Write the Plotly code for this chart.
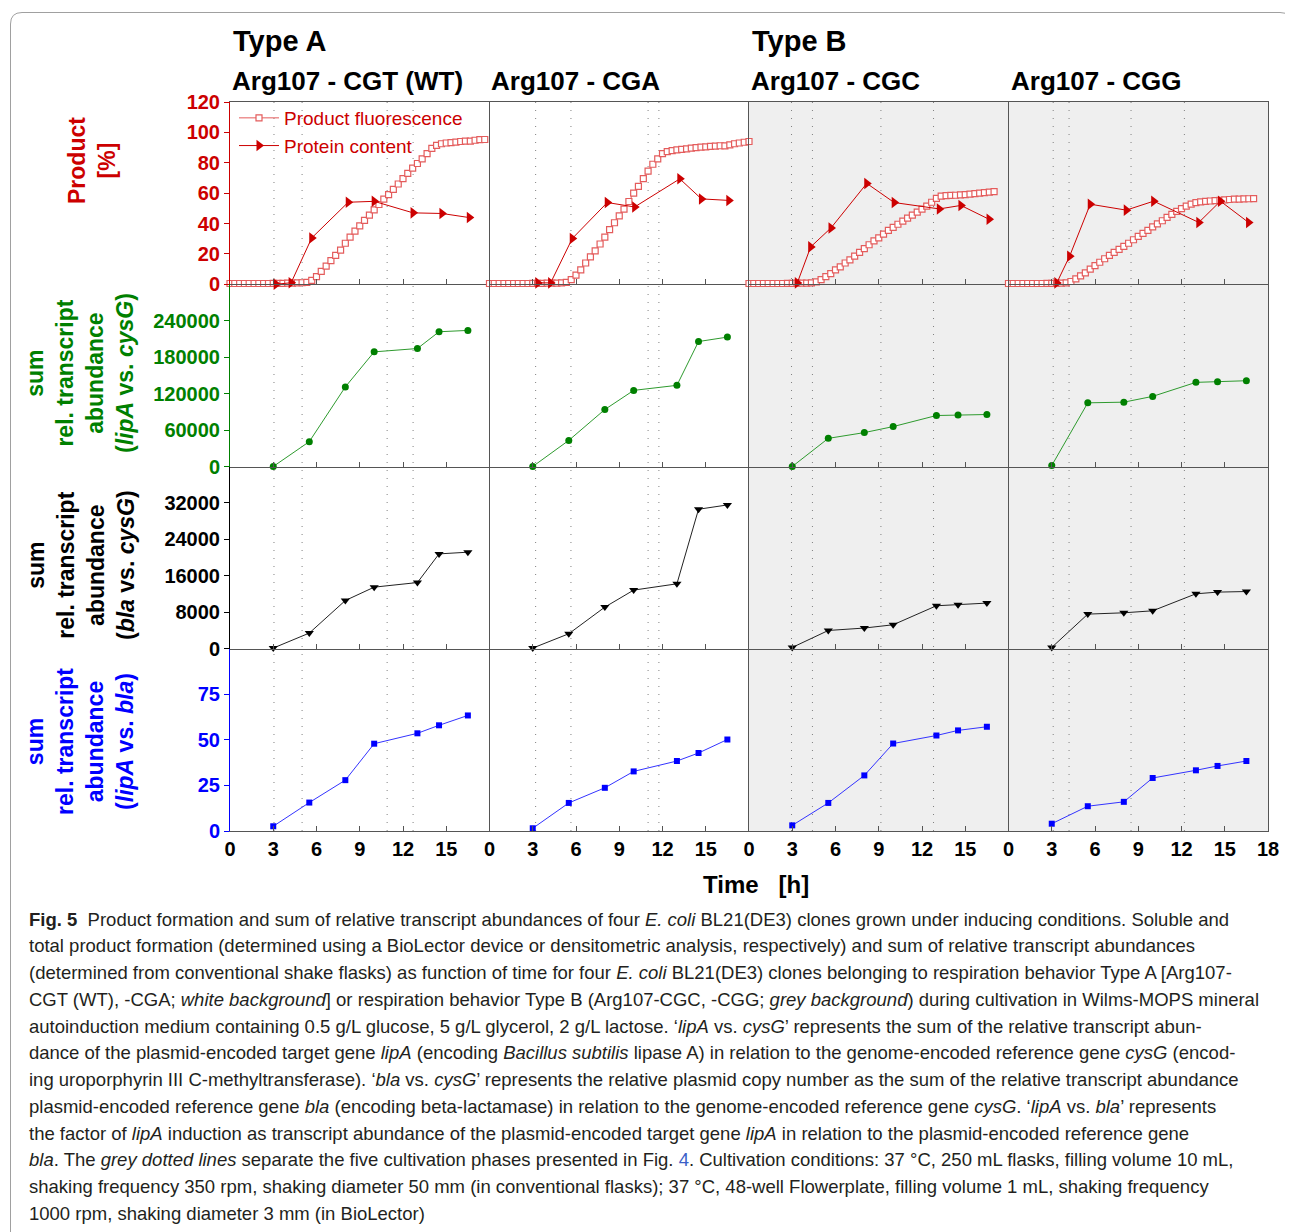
import plotly.graph_objects as go
from plotly.subplots import make_subplots

# ---------------- data ----------------
COLUMN_TITLES = ["Arg107 - CGT (WT)", "Arg107 - CGA", "Arg107 - CGC", "Arg107 - CGG"]
TYPE_TITLES = ["Type A", "Type B"]

# phase boundaries (grey dotted lines), hours, per clone
PHASES = [
    [3.05, 5.0, 10.9, 12.7],
    [3.2, 5.65, 11.0, 11.75],
    [2.95, 4.4, 9.15, 12.8],
    [3.1, 4.2, 8.5, 12.2],
]

# product fluorescence (BioLector), time grid in hours
FL_T = [0.0, 0.33, 0.67, 1.0, 1.33, 1.67, 2.0, 2.33, 2.67, 3.0, 3.33, 3.67, 4.0, 4.33, 4.67,
        5.0, 5.33, 5.67, 6.0, 6.33, 6.67, 7.0, 7.33, 7.67, 8.0, 8.33, 8.67, 9.0, 9.33, 9.67,
        10.0, 10.33, 10.67, 11.0, 11.33, 11.67, 12.0, 12.33, 12.67, 13.0, 13.33, 13.67, 14.0,
        14.33, 14.67, 15.0, 15.33, 15.67, 16.0, 16.33, 16.67, 17.0, 17.33, 17.67, 18.0]
FL_CGT = [0.5, 0.5, 0.5, 0.5, 0.5, 0.5, 0.5, 0.5, 0.5, 0.6, 0.6, 0.6, 0.7, 0.8, 0.9, 1.0,
          1.2, 2.6, 5, 8.5, 12, 15.5, 19, 22.5, 27, 31, 35, 38.5, 42, 45.5, 49, 52.5, 56, 59,
          62.5, 66, 69.5, 73, 76.5, 79.5, 82.5, 86, 89.5, 91.5, 92.5, 93, 93.3, 93.6, 94, 94.3,
          94.2, 94.8, 95.2, 95.3]
FL_CGA = [0.5, 0.5, 0.5, 0.5, 0.5, 0.5, 0.5, 0.5, 0.5, 0.6, 0.6, 0.6, 0.7, 0.7, 0.8, 0.9,
          1.3, 3, 6, 9.5, 14, 18, 22, 26.5, 31, 36, 40.5, 45, 49.5, 54.5, 60, 64.5, 69.5, 74.5,
          79, 82.5, 86, 87.3, 88, 88.5, 88.8, 89.2, 89.6, 90, 90.3, 90.5, 90.8, 91, 91.2, 91.1,
          91.8, 92.5, 93, 93.5, 94]
FL_CGC = [0.5, 0.5, 0.5, 0.5, 0.5, 0.5, 0.5, 0.5, 0.6, 0.6, 0.7, 0.7, 0.8, 0.9,
          1.5, 3, 5, 7, 9.5, 11.5, 14, 16, 18.5, 21, 23.5, 26, 28.5, 30.5, 33, 35.5, 37.5,
          39.5, 41.5, 43.5, 45.5, 47.5, 49.5, 51.5, 54, 56.5, 58, 58.3, 58.5, 58.6, 58.8, 59,
          59.3, 59.7, 60, 60.3, 60.6, 61]
FL_CGG = [0.5, 0.5, 0.5, 0.5, 0.5, 0.5, 0.5, 0.5, 0.6, 0.6, 0.7, 0.8, 0.9,
          1.8, 3.5, 5.5, 7.5, 10, 12.3, 14.5, 16.8, 19, 21, 23, 25, 27, 29.3, 31.5, 33.5, 35.5,
          37.8, 39.8, 41.8, 44, 46, 48, 49.8, 51.5, 52.8, 53.7, 54.2, 54.6, 54.8, 55, 55.3,
          55.6, 55.8, 56, 56.1, 56.2, 56.3, 56.4]
FLUORESCENCE = [FL_CGT, FL_CGA, FL_CGC, FL_CGG]

# protein content (densitometry)
PROT_T = [
    [3.2, 4.24, 5.67, 8.2, 10.0, 12.7, 14.7, 16.6],
    [3.35, 4.24, 5.74, 8.17, 10.07, 13.2, 14.7, 16.6],
    [3.35, 4.28, 5.69, 8.17, 10.07, 13.2, 14.7, 16.65],
    [3.35, 4.24, 5.67, 8.17, 10.07, 13.2, 14.7, 16.65],
]
PROT_V = [
    [0, 1, 30.5, 54, 54.6, 47, 46.6, 43.9],
    [0.9, 0.9, 30.1, 53.8, 50.9, 69.4, 56.2, 55.2],
    [0.9, 24.6, 37.1, 66.4, 53.8, 49.6, 51.9, 42.8],
    [0.9, 18.5, 52.7, 48.8, 54.7, 40.7, 54.7, 40.7],
]

# transcript sampling times (shake flasks)
TR_T = [3, 5.5, 8, 10, 13, 14.5, 16.5]
LIPA_CYSG = [
    [0, 40900, 131000, 188700, 194200, 221800, 224000],
    [0, 43000, 93800, 125300, 133600, 205700, 213000],
    [0, 46300, 55800, 65700, 83900, 84900, 85600],
    [1600, 104800, 105900, 115400, 138500, 139500, 141200],
]
BLA_CYSG = [
    [150, 3440, 10590, 13520, 14530, 20820, 21190],
    [150, 3290, 9140, 12870, 14250, 30620, 31560],
    [290, 4010, 4540, 5260, 9430, 9640, 10020],
    [290, 7600, 7890, 8330, 12060, 12430, 12560],
]
LIPA_BLA = [
    [2.6, 15.6, 27.9, 47.9, 53.6, 58.0, 63.4],
    [1.5, 15.4, 23.7, 32.7, 38.4, 42.8, 50.2],
    [3.1, 15.4, 30.5, 48.0, 52.4, 55.2, 57.2],
    [4.0, 13.6, 16.0, 29.1, 33.3, 35.7, 38.4],
]

X_TICKS = [0, 3, 6, 9, 12, 15]
X_TICKS_LAST = [0, 3, 6, 9, 12, 15, 18]
Y1_TICKS = [0, 20, 40, 60, 80, 100, 120]
Y2_TICKS = [0, 60000, 120000, 180000, 240000]
Y3_TICKS = [0, 8000, 16000, 24000, 32000]
Y4_TICKS = [0, 25, 50, 75]
Y_RANGES = [[0, 120], [0, 300000], [0, 40000], [0, 100]]
Y_TICKSETS = [Y1_TICKS, Y2_TICKS, Y3_TICKS, Y4_TICKS]

# ---------------- styling ----------------
RED = "#CC0000"
FL_RED = "#E45C5C"
GREEN = "#008000"
BLACK = "#000000"
BLUE = "#0000FF"
ROW_COLORS = [RED, GREEN, BLACK, BLUE]
AXIS = "#555555"
FONT = "Liberation Sans"

OFF = 8  # page body margin
W, H = 1285, 1224
L, R, T, B = 222, 25, 94, 401
PW, PH = W - L - R, H - T - B


def px2x(px):
    # screen pixel -> paper x
    return (px - OFF - L) / PW


def py2y(py):
    # screen pixel -> paper y
    return (H - B - (py - OFF)) / PH


fig = make_subplots(rows=4, cols=4, horizontal_spacing=0, vertical_spacing=0)


def ax_idx(r, c):
    return (r - 1) * 4 + c


for c in range(4):
    col = c + 1
    ft = FL_T[:len(FLUORESCENCE[c])]
    fig.add_trace(go.Scatter(
        x=ft, y=FLUORESCENCE[c], mode="lines+markers", name="Product fluorescence",
        line=dict(color=FL_RED, width=1),
        marker=dict(symbol="square", size=6, color="white", line=dict(color=FL_RED, width=1.2)),
        showlegend=(c == 0), cliponaxis=False), row=1, col=col)
    fig.add_trace(go.Scatter(
        x=PROT_T[c], y=PROT_V[c], mode="lines+markers", name="Protein content",
        line=dict(color=RED, width=1),
        marker=dict(symbol="triangle-right", size=10, color=RED),
        showlegend=(c == 0), cliponaxis=False), row=1, col=col)
    fig.add_trace(go.Scatter(
        x=TR_T, y=LIPA_CYSG[c], mode="lines+markers", showlegend=False,
        line=dict(color="#2E9A2E", width=1),
        marker=dict(symbol="circle", size=7, color=GREEN), cliponaxis=False), row=2, col=col)
    fig.add_trace(go.Scatter(
        x=TR_T, y=BLA_CYSG[c], mode="lines+markers", showlegend=False,
        line=dict(color="#222222", width=1),
        marker=dict(symbol="triangle-down", size=8, color=BLACK), cliponaxis=False), row=3, col=col)
    fig.add_trace(go.Scatter(
        x=TR_T, y=LIPA_BLA[c], mode="lines+markers", showlegend=False,
        line=dict(color="#3333FF", width=1),
        marker=dict(symbol="square", size=6, color=BLUE), cliponaxis=False), row=4, col=col)

for r in range(1, 5):
    for c in range(1, 5):
        i = ax_idx(r, c)
        xname = "xaxis" if i == 1 else f"xaxis{i}"
        yname = "yaxis" if i == 1 else f"yaxis{i}"
        tv = X_TICKS_LAST if c == 4 else X_TICKS
        fig.layout[xname].update(
            range=[0, 18], tickvals=tv, ticktext=[str(v) for v in tv],
            ticks="inside", ticklen=5, tickcolor=AXIS, showline=True, linecolor=AXIS,
            linewidth=1, mirror=(r == 1), showgrid=False, zeroline=False,
            showticklabels=(r == 4),
            tickfont=dict(family=FONT, size=20, color=BLACK, weight="bold"))
        ycol = ROW_COLORS[r - 1]
        yv = Y_TICKSETS[r - 1]
        fig.layout[yname].update(
            range=Y_RANGES[r - 1], showgrid=False, zeroline=False, showline=True,
            linecolor=(ycol if c == 1 else AXIS), linewidth=1, mirror=(c == 4),
            tickvals=yv, ticktext=[str(v) for v in yv],
            ticks=("outside" if c == 1 else ""), ticklen=5, tickcolor=ycol,
            showticklabels=(c == 1),
            tickfont=dict(family=FONT, size=20, color=ycol, weight="bold"))

shapes = []
# grey background for Type B
shapes.append(dict(type="rect", xref="paper", yref="paper", x0=0.5, x1=1, y0=0, y1=1,
                   fillcolor="#EFEFEF", line=dict(width=0), layer="below"))
# phase lines
for c in range(4):
    i = ax_idx(1, c + 1)
    xref = "x" if i == 1 else f"x{i}"
    for h in PHASES[c]:
        shapes.append(dict(type="line", xref=xref, yref="paper", x0=h, x1=h, y0=0, y1=1,
                           line=dict(color="#808080", width=1, dash="1px,7px"), layer="below"))
# outer rounded frame
x0, x1 = px2x(10.5), px2x(1291.5)
xr0, xr1 = px2x(22), px2x(1280)
yt, ytr = py2y(12.5), py2y(24)
yb = py2y(1260)
shapes.append(dict(type="path", xref="paper", yref="paper",
                   path=f"M {x0},{yb} L {x0},{ytr} Q {x0},{yt} {xr0},{yt} L {xr1},{yt} "
                        f"Q {x1},{yt} {x1},{ytr} L {x1},{yb}",
                   line=dict(color="#A0A0A0", width=1)))

ann = []
for t, px in zip(TYPE_TITLES, [231, 750]):
    ann.append(dict(text=f"<b>{t}</b>", x=px2x(px), y=py2y(41), xref="paper", yref="paper",
                    xanchor="left", yanchor="middle", showarrow=False,
                    font=dict(family=FONT, size=29, color=BLACK)))
for t, px in zip(COLUMN_TITLES, [230, 489, 749, 1009]):
    ann.append(dict(text=f"<b>{t}</b>", x=px2x(px), y=py2y(81), xref="paper", yref="paper",
                    xanchor="left", yanchor="middle", showarrow=False,
                    font=dict(family=FONT, size=26, color=BLACK)))

YTITLES = [
    ("<b>Product<br>[%]</b>", RED, 92, 161),
    ("<b>sum<br>rel. transcript<br>abundance<br>(<i>lipA</i> vs. <i>cysG</i>)</b>", GREEN, 80, 373),
    ("<b>sum<br>rel. transcript<br>abundance<br>(<i>bla</i> vs. <i>cysG</i>)</b>", BLACK, 81, 565),
    ("<b>sum<br>rel. transcript<br>abundance<br>(<i>lipA</i> vs. <i>bla</i>)</b>", BLUE, 80, 742),
]
for txt, col, px, py in YTITLES:
    ann.append(dict(text=txt, x=px2x(px), y=py2y(py), xref="paper", yref="paper",
                    xanchor="center", yanchor="middle", showarrow=False, textangle=-90,
                    font=dict(family=FONT, size=23, color=col)))

ann.append(dict(text="<b>Time\u00a0\u00a0\u00a0[h]</b>", x=px2x(756), y=py2y(885),
                xref="paper", yref="paper", xanchor="center", yanchor="middle",
                showarrow=False, font=dict(family=FONT, size=24, color=BLACK)))

CAPTION = [
    "<b>Fig. 5</b>\u00a0\u00a0Product formation and sum of relative transcript abundances of four <i>E. coli</i> BL21(DE3) clones grown under inducing conditions. Soluble and",
    "total product formation (determined using a BioLector device or densitometric analysis, respectively) and sum of relative transcript abundances",
    "(determined from conventional shake flasks) as function of time for four <i>E. coli</i> BL21(DE3) clones belonging to respiration behavior Type A [Arg107-",
    "CGT (WT), -CGA; <i>white background</i>] or respiration behavior Type B (Arg107-CGC, -CGG; <i>grey background</i>) during cultivation in Wilms-MOPS mineral",
    "autoinduction medium containing 0.5 g/L glucose, 5 g/L glycerol, 2 g/L lactose. \u2018<i>lipA</i> vs. <i>cysG</i>\u2019 represents the sum of the relative transcript abun-",
    "dance of the plasmid-encoded target gene <i>lipA</i> (encoding <i>Bacillus subtilis</i> lipase A) in relation to the genome-encoded reference gene <i>cysG</i> (encod-",
    "ing uroporphyrin III C-methyltransferase). \u2018<i>bla</i> vs. <i>cysG</i>\u2019 represents the relative plasmid copy number as the sum of the relative transcript abundance",
    "plasmid-encoded reference gene <i>bla</i> (encoding beta-lactamase) in relation to the genome-encoded reference gene <i>cysG</i>. \u2018<i>lipA</i> vs. <i>bla</i>\u2019 represents",
    "the factor of <i>lipA</i> induction as transcript abundance of the plasmid-encoded target gene <i>lipA</i> in relation to the plasmid-encoded reference gene",
    "<i>bla</i>. The <i>grey dotted lines</i> separate the five cultivation phases presented in Fig. <span style='color:#3B5FC8'>4</span>. Cultivation conditions: 37 \u00b0C, 250 mL flasks, filling volume 10 mL,",
    "shaking frequency 350 rpm, shaking diameter 50 mm (in conventional flasks); 37 \u00b0C, 48-well Flowerplate, filling volume 1 mL, shaking frequency",
    "1000 rpm, shaking diameter 3 mm (in BioLector)",
]
CAP_Y = [919, 946, 972, 999, 1026, 1052, 1079, 1106, 1133, 1159, 1186, 1213]
for line, py in zip(CAPTION, CAP_Y):
    ann.append(dict(text=line, x=px2x(27), y=py2y(py), xref="paper", yref="paper",
                    xanchor="left", yanchor="middle", showarrow=False,
                    font=dict(family=FONT, size=18.5, color="#231F20")))

fig.update_layout(
    width=W, height=H, margin=dict(l=L, r=R, t=T, b=B, pad=0),
    paper_bgcolor="white", plot_bgcolor="rgba(0,0,0,0)",
    shapes=shapes, annotations=ann,
    font=dict(family=FONT, color=BLACK),
    legend=dict(x=px2x(234), y=py2y(99), xanchor="left", yanchor="top",
                bgcolor="rgba(0,0,0,0)", font=dict(family=FONT, size=19, color=RED),
                itemwidth=40, tracegroupgap=0),
)

fig.write_html("out.html")
